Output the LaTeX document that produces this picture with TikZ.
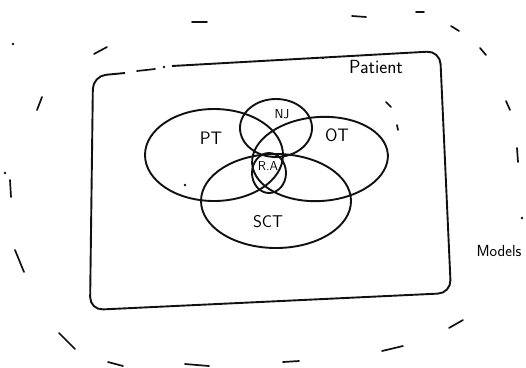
\documentclass[tikz,border=0pt]{standalone}
\usepackage{tikz}
\usetikzlibrary{positioning,calc}
\definecolor{ink}{HTML}{111111}

\begin{document}
\begin{tikzpicture}[x=1pt,y=-1pt,
  venn/.style={ink, line width=1.9pt},
  scrib/.style={ink, line width=1.7pt, line cap=round},
  lbl/.style={inner sep=0pt, font=\sffamily\fontsize{18}{18}\selectfont},
  smalllbl/.style={inner sep=0pt, font=\sffamily\fontsize{13}{13}\selectfont}]
 \useasboundingbox (0,0) rectangle (526,367);
 % outer frame (patient)
 \draw[venn, rounded corners=13pt] (172,66) -- (440,51) -- (451,293) -- (90,310) -- (93,76) -- (125,73);
 \draw[scrib] (137,71) -- (155,69);
 % circles
 \coordinate (cPT) at (214,155);
 \coordinate (cOT) at (320,159);
 \coordinate (cSCT) at (276,201);
 \coordinate (cNJ) at (276,128);
 \coordinate (cRA) at (269,173);
 \draw[venn] (cPT) ellipse [x radius=69, y radius=46];
 \draw[venn, rotate around={4:(cOT)}] (cOT) ellipse [x radius=68, y radius=42];
 \draw[venn] (cSCT) ellipse [x radius=75, y radius=47];
 \draw[venn] (cNJ) ellipse [x radius=36, y radius=29];
 \draw[venn] (cRA) ellipse [x radius=17, y radius=20];
 % labels
 \node[lbl] (pt) at (211,138) {PT};
 \node[lbl] (ot) at (337,135) {OT};
 \node[lbl, font=\sffamily\fontsize{17}{17}\selectfont] (sct) at (268,222) {SCT};
 \node[smalllbl] (nj) at (282,114) {NJ};
 \node[smalllbl] (ra) at (268,166) {R.A};
 \node[lbl, font=\sffamily\fontsize{19}{19}\selectfont] (patient) at (376,67) {Patient};
 \node[smalllbl, font=\sffamily\fontsize{16}{16}\selectfont] (models) at (499,251) {Models};
 % dashed outer ring
 \foreach \xa/\ya/\xb/\yb in {94/54/107/47,192/22/207/22,352/16/366/17,416/12/424/12,
   451/26/459/31,480/48/486/55,506/101/510/110,517/148/518/162,
   37/110/42/97,10/180/11/197,15/250/24/272,59/333/75/349,
   108/362/123/366,185/364/209/366,283/362/299/361,382/351/403/346,
   449/328/463/320,386/102/391/107,397/125/398/130}
   \draw[scrib] (\xa,\ya) -- (\xb,\yb);
 \foreach \p in {(13,44),(5,173),(164,67),(185,185),(323,58),(522,218)} \fill[ink] \p circle (1.3pt);
\end{tikzpicture}
\end{document}
